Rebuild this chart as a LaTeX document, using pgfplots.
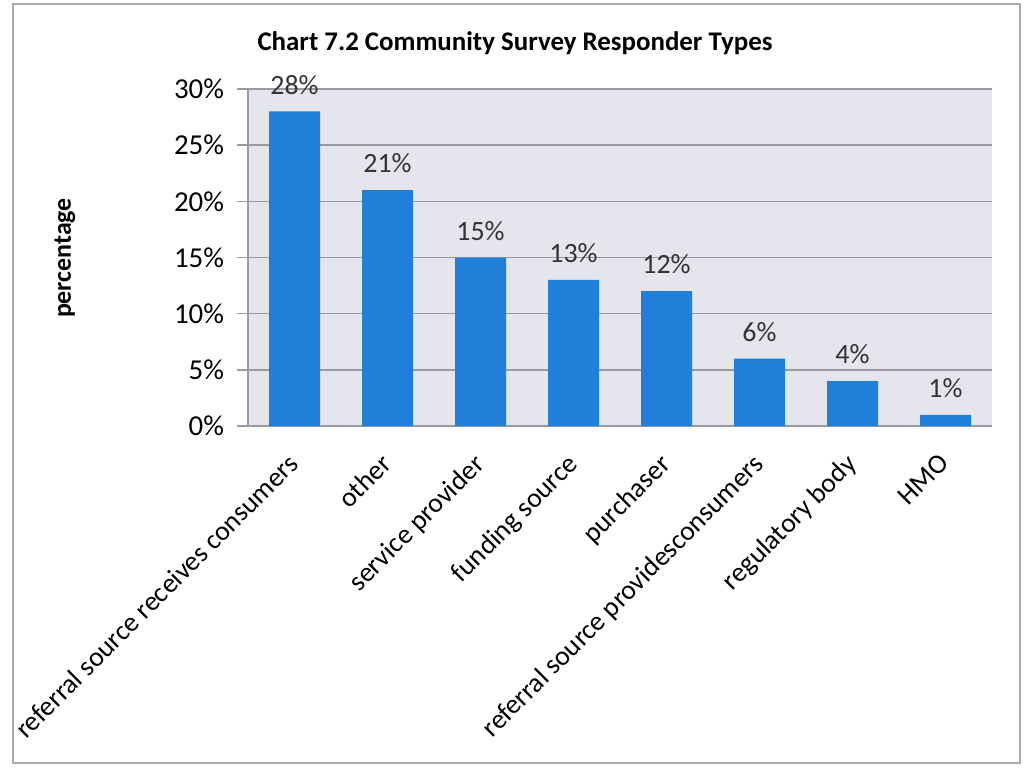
\documentclass[border=0pt]{standalone}
\usepackage{pgfplots}
\pgfplotsset{compat=1.18}
\usepackage{fontspec}
\setmainfont{Carlito}
\definecolor{barblue}{HTML}{1F7FD9}
\definecolor{bgc}{HTML}{E5E5ED}
\definecolor{gridc}{HTML}{9A9AA2}
\definecolor{framec}{HTML}{A8A8B0}
\definecolor{lblc}{HTML}{333333}
\begin{document}
\begin{tikzpicture}[x=1bp,y=1bp]
\path[use as bounding box] (0,0) rectangle (513,384);
\draw[framec, line width=1bp] (6.5,2.5) rectangle (510,382);
\begin{axis}[
  at={(124bp,171bp)}, anchor=south west,
  width=372bp, height=168.5bp, scale only axis,
  ymin=0, ymax=30, xmin=-0.5, xmax=7.5,
  ytick={0,5,...,30},
  yticklabel={\pgfmathprintnumber{\tick}\%},
  /pgf/number format/assume math mode=true,
  xtick={0,...,7},
  xticklabels={referral source receives consumers, other, service provider, funding source, purchaser, referral source providesconsumers, regulatory body, HMO},
  x tick label style={xshift=-4bp, yshift=-6bp, rotate=45, anchor=north east, font=\fontsize{13.8}{16}\selectfont, inner sep=1bp},
  y tick label style={font=\fontsize{14.5}{16}\selectfont, xshift=-3bp},
  axis x line*=bottom, axis y line*=left,
  axis line style={gridc, -, line width=0.8bp},
  tick align=outside,
  major tick length=5.5bp,
  ytick style={gridc, line width=0.8bp},
  xtick style={draw=none},
  ymajorgrids, grid style={gridc, line width=0.8bp},
  axis background/.style={fill=bgc},
  ybar, bar width=25.5bp,
  nodes near coords={\pgfmathprintnumber{\pgfplotspointmeta}\%},
  every node near coord/.append style={font=\fontsize{14}{16}\selectfont, color=lblc, yshift=5bp},
  clip=false,
]
\addplot[fill=barblue, draw=none] coordinates {(0,28) (1,21) (2,15) (3,13) (4,12) (5,6) (6,4) (7,1)};
\end{axis}
\node[font=\bfseries\fontsize{13.5}{16}\selectfont] at (257.5,362.5) {Chart 7.2 Community Survey Responder Types};
\node[font=\bfseries\fontsize{13}{16}\selectfont, rotate=90] at (32.5,255) {percentage};
\end{tikzpicture}
\end{document}
